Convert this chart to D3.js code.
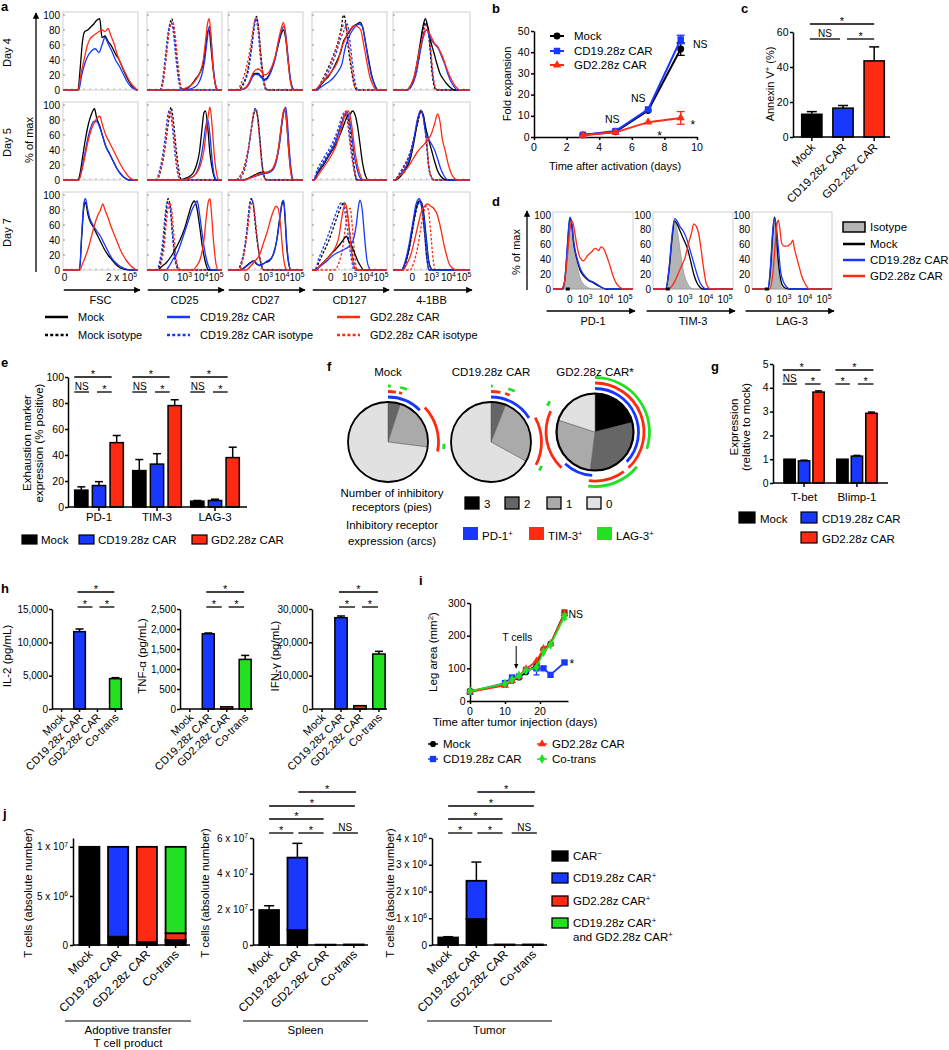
<!DOCTYPE html>
<html><head><meta charset="utf-8">
<script src="https://cdn.jsdelivr.net/npm/d3@7"></script>
<style>
body{margin:0;background:#fff;}
svg text{font-family:"Liberation Sans",Arial,Helvetica,sans-serif;fill:#000;}
</style></head><body>
<script>
// ================= DATA =================
const C = {mock:"#000000", cd19:"#1838ff", gd2:"#ff2a12", co:"#22e022"};
const seriesNames = ["Mock","CD19.28z CAR","GD2.28z CAR"];

// ---- panel a: flow histograms, [x% of axis, % of max]
const aMarkers = ["FSC","CD25","CD27","CD127","4-1BB"];
const aDays = ["Day 4","Day 5","Day 7"];
const aYTicks = [0,20,40,60,80,100];
const aXTicksFSC = [["0",2],["2 x 10^{5}",78]];
const aXTicksLog = [["0",25],["10^{3}",50],["10^{4}",72],["10^{5}",92]];
// entries: [marker, series, dashed(isotype), points]
const histDay4 = [
 ["FSC","mock",0,[[20,0],[23,30],[26,65],[29,78],[33,80],[37,84],[41,88],[45,93],[49,95],[52,70],[56,72],[60,65],[65,58],[70,48],[75,40],[80,28],[85,17],[90,8],[95,2],[99,0]]],
 ["FSC","cd19",0,[[21,0],[25,20],[29,35],[33,45],[38,52],[43,55],[48,50],[52,60],[56,70],[60,62],[65,52],[70,40],[75,32],[80,22],[85,12],[90,5],[96,1],[99,0]]],
 ["FSC","gd2",0,[[20,0],[24,22],[28,40],[32,58],[36,68],[40,72],[44,75],[48,78],[52,80],[56,78],[60,82],[64,72],[68,62],[72,48],[77,35],[82,25],[87,15],[92,7],[97,2],[99,0]]],
 ["CD25","mock",1,[[18,0],[22,15],[26,50],[30,85],[33,95],[36,80],[40,40],[44,8],[47,0]]],
 ["CD25","cd19",1,[[17,0],[21,15],[25,50],[29,82],[32,90],[35,78],[39,38],[43,8],[46,0]]],
 ["CD25","gd2",1,[[18,0],[22,14],[26,48],[30,80],[34,92],[37,78],[41,38],[45,6],[48,0]]],
 ["CD25","mock",0,[[40,0],[48,1],[55,3],[60,8],[65,15],[70,22],[75,35],[78,55],[81,78],[83,80],[85,60],[88,30],[91,8],[94,0]]],
 ["CD25","cd19",0,[[45,0],[55,1],[62,3],[68,8],[73,20],[77,40],[80,65],[83,85],[85,75],[88,35],[91,8],[94,0]]],
 ["CD25","gd2",0,[[40,0],[50,2],[58,6],[64,12],[70,22],[75,40],[78,65],[81,90],[83,95],[85,75],[88,30],[92,5],[95,0]]],
 ["CD27","mock",1,[[14,0],[20,8],[26,25],[31,55],[35,85],[38,98],[41,80],[44,45],[48,12],[52,0]]],
 ["CD27","cd19",1,[[15,0],[21,8],[27,25],[32,58],[35,85],[37,95],[40,80],[43,45],[47,12],[51,0]]],
 ["CD27","gd2",1,[[12,0],[18,10],[24,28],[30,58],[34,85],[38,97],[41,78],[44,42],[48,10],[52,0]]],
 ["CD27","mock",0,[[15,0],[20,1],[25,4],[29,10],[32,18],[36,22],[40,22],[44,18],[48,14],[52,16],[57,25],[62,40],[67,60],[71,75],[74,80],[77,68],[80,40],[83,15],[86,3],[89,0]]],
 ["CD27","cd19",0,[[15,0],[20,1],[25,4],[29,10],[33,18],[37,21],[41,20],[45,16],[49,13],[53,16],[58,26],[63,42],[67,62],[71,78],[75,85],[78,65],[81,35],[84,10],[88,0]]],
 ["CD27","gd2",0,[[15,0],[20,1],[25,5],[29,12],[33,22],[37,27],[41,28],[45,24],[49,20],[53,22],[58,30],[63,45],[67,65],[71,82],[74,90],[77,72],[80,40],[83,12],[87,0]]],
 ["CD127","mock",1,[[6,0],[12,10],[18,22],[24,35],[30,50],[35,65],[39,82],[42,100],[45,90],[48,60],[52,30],[56,8],[60,0]]],
 ["CD127","cd19",1,[[7,0],[13,8],[20,20],[27,35],[33,52],[38,68],[43,80],[47,88],[50,70],[54,35],[58,8],[61,0]]],
 ["CD127","gd2",1,[[6,0],[12,9],[19,22],[26,38],[32,55],[37,72],[41,85],[44,90],[47,75],[51,45],[55,15],[59,0]]],
 ["CD127","mock",0,[[4,0],[10,5],[16,12],[22,18],[28,28],[33,38],[38,50],[42,65],[46,72],[50,78],[55,85],[60,88],[64,90],[68,82],[72,60],[76,38],[80,18],[84,6],[88,0]]],
 ["CD127","cd19",0,[[5,0],[12,4],[18,8],[24,12],[30,18],[35,25],[40,35],[44,55],[48,68],[53,78],[58,85],[63,88],[67,85],[71,65],[75,40],[79,20],[83,8],[87,0]]],
 ["CD127","gd2",0,[[4,0],[10,6],[17,14],[24,22],[30,30],[35,40],[39,55],[43,65],[47,75],[52,82],[56,86],[60,85],[65,80],[69,60],[73,38],[77,18],[82,5],[86,0]]],
 ["4-1BB","mock",1,[[18,0],[24,8],[30,25],[35,55],[39,80],[42,90],[45,85],[48,55],[51,20],[54,3],[56,0]]],
 ["4-1BB","cd19",1,[[19,0],[25,8],[31,26],[36,58],[40,82],[43,88],[46,80],[49,50],[52,18],[55,3],[57,0]]],
 ["4-1BB","gd2",1,[[18,0],[24,7],[30,22],[35,50],[39,75],[43,86],[46,82],[49,55],[52,20],[55,3],[58,0]]],
 ["4-1BB","mock",0,[[17,0],[22,4],[27,15],[31,35],[35,60],[39,85],[42,95],[45,85],[49,65],[53,50],[57,35],[61,22],[65,15],[70,8],[75,3],[80,0]]],
 ["4-1BB","cd19",0,[[18,0],[24,5],[29,18],[33,38],[37,60],[41,78],[44,80],[47,72],[51,65],[55,60],[59,55],[63,45],[67,35],[71,22],[75,12],[79,5],[84,0]]],
 ["4-1BB","gd2",0,[[17,0],[23,6],[28,20],[32,40],[36,60],[40,72],[43,80],[46,78],[50,70],[54,62],[58,58],[62,50],[66,40],[70,28],[74,18],[78,10],[82,4],[87,0]]]
];
const histDay5 = [
 ["FSC","mock",0,[[20,0],[23,10],[26,30],[30,55],[34,75],[38,88],[42,95],[45,82],[49,72],[53,58],[57,45],[62,35],[67,25],[72,15],[77,8],[82,3],[88,0]]],
 ["FSC","cd19",0,[[21,0],[25,15],[29,35],[33,55],[37,70],[41,78],[45,78],[49,70],[53,58],[57,45],[62,35],[67,25],[72,15],[77,8],[82,3],[88,0]]],
 ["FSC","gd2",0,[[21,0],[25,12],[29,30],[33,50],[37,65],[41,75],[45,82],[49,85],[53,72],[57,60],[62,50],[67,40],[72,30],[77,20],[82,12],[87,5],[92,1],[96,0]]],
 ["CD25","mock",1,[[13,0],[17,8],[21,25],[25,50],[29,80],[32,97],[35,80],[39,40],[43,10],[46,0]]],
 ["CD25","cd19",1,[[12,0],[16,10],[20,28],[24,55],[27,82],[30,93],[33,78],[37,38],[41,8],[44,0]]],
 ["CD25","gd2",1,[[13,0],[17,9],[21,26],[25,52],[28,80],[31,92],[34,78],[38,38],[42,8],[45,0]]],
 ["CD25","mock",0,[[42,0],[50,2],[57,5],[62,10],[66,20],[70,38],[73,65],[76,90],[78,92],[81,70],[84,35],[88,10],[92,0]]],
 ["CD25","cd19",0,[[45,0],[55,2],[62,5],[67,12],[71,25],[75,48],[78,70],[81,80],[84,60],[87,25],[90,5],[93,0]]],
 ["CD25","gd2",0,[[45,0],[55,2],[62,5],[68,12],[72,22],[76,40],[79,65],[82,88],[84,97],[87,70],[90,30],[93,8],[96,0]]],
 ["CD27","mock",1,[[11,0],[16,5],[21,15],[26,35],[30,60],[34,85],[36,95],[39,88],[42,60],[45,25],[48,5],[51,0]]],
 ["CD27","cd19",1,[[14,0],[19,6],[24,20],[28,45],[32,75],[35,92],[37,95],[40,82],[43,50],[46,18],[49,3],[52,0]]],
 ["CD27","gd2",1,[[12,0],[17,6],[22,18],[27,40],[31,68],[34,90],[36,93],[39,85],[42,55],[45,20],[48,4],[51,0]]],
 ["CD27","mock",0,[[20,0],[26,2],[32,5],[38,8],[44,10],[50,10],[56,12],[60,15],[64,25],[68,45],[71,70],[74,90],[76,95],[78,80],[81,40],[84,10],[87,0]]],
 ["CD27","cd19",0,[[22,0],[28,2],[34,4],[40,6],[46,8],[52,9],[57,11],[61,15],[65,27],[69,50],[72,75],[75,93],[77,97],[79,80],[82,38],[85,8],[88,0]]],
 ["CD27","gd2",0,[[21,0],[27,2],[33,4],[39,7],[45,9],[51,10],[56,12],[60,16],[64,26],[68,48],[71,72],[74,92],[76,95],[78,78],[81,38],[84,8],[87,0]]],
 ["CD127","mock",1,[[3,0],[8,12],[14,22],[20,32],[26,42],[32,55],[37,68],[41,80],[44,85],[47,88],[50,70],[53,45],[56,20],[60,0]]],
 ["CD127","cd19",1,[[2,0],[7,14],[13,25],[19,35],[25,45],[31,58],[36,72],[40,85],[44,90],[47,80],[50,55],[54,25],[58,5],[61,0]]],
 ["CD127","gd2",1,[[3,0],[8,10],[14,20],[20,30],[26,40],[32,55],[37,70],[42,85],[45,92],[48,80],[51,50],[55,20],[59,0]]],
 ["CD127","mock",0,[[2,0],[8,10],[14,18],[20,28],[26,38],[32,48],[38,62],[43,75],[47,85],[51,88],[54,92],[58,85],[61,70],[64,48],[67,25],[70,10],[73,2],[75,0]]],
 ["CD127","cd19",0,[[2,0],[8,12],[14,20],[20,30],[26,40],[32,52],[37,68],[41,80],[44,88],[47,90],[50,80],[53,60],[56,35],[60,15],[64,3],[67,0]]],
 ["CD127","gd2",0,[[3,0],[9,8],[15,16],[21,25],[27,35],[33,48],[38,65],[42,80],[45,90],[48,92],[51,85],[54,65],[57,40],[61,18],[65,5],[68,0]]],
 ["4-1BB","mock",1,[[2,0],[8,8],[14,18],[20,30],[26,50],[32,75],[36,90],[39,85],[43,55],[46,20],[50,3],[53,0]]],
 ["4-1BB","cd19",1,[[3,0],[9,9],[15,20],[21,33],[27,55],[32,78],[36,92],[39,88],[43,58],[46,22],[50,4],[53,0]]],
 ["4-1BB","gd2",1,[[3,0],[9,7],[15,17],[21,30],[27,52],[32,76],[36,90],[40,84],[44,50],[47,15],[51,2],[54,0]]],
 ["4-1BB","mock",0,[[3,0],[10,5],[17,15],[23,30],[28,55],[32,80],[36,92],[39,88],[42,72],[46,55],[50,40],[54,25],[58,12],[62,5],[67,1],[72,0]]],
 ["4-1BB","cd19",0,[[3,0],[10,8],[17,18],[23,35],[28,60],[32,82],[36,93],[39,85],[42,65],[46,55],[50,48],[54,40],[58,28],[62,15],[66,6],[70,1],[74,0]]],
 ["4-1BB","gd2",0,[[2,0],[8,5],[14,10],[20,18],[26,28],[32,38],[38,45],[44,52],[50,62],[54,75],[58,88],[61,78],[64,55],[68,38],[72,20],[76,8],[80,2],[84,0]]]
];
const histDay7 = [
 ["FSC","mock",0,[[22,0],[25,45],[28,85],[30,90],[33,75],[36,65],[40,58],[45,48],[50,38],[55,28],[60,20],[65,14],[70,8],[76,3],[82,1],[88,0]]],
 ["FSC","cd19",0,[[22,0],[25,50],[28,90],[30,95],[33,80],[36,68],[40,60],[45,52],[50,45],[55,35],[60,25],[65,16],[70,10],[76,5],[82,2],[90,0]]],
 ["FSC","gd2",0,[[22,0],[26,8],[30,18],[34,30],[38,45],[42,60],[46,72],[50,80],[53,88],[56,80],[60,70],[64,58],[68,48],[72,38],[76,28],[80,20],[85,12],[90,6],[95,2],[99,0]]],
 ["CD25","mock",1,[[14,0],[18,10],[22,35],[25,70],[28,95],[31,85],[34,50],[37,20],[40,5],[43,0]]],
 ["CD25","cd19",1,[[13,0],[17,12],[21,38],[24,72],[28,92],[31,80],[34,45],[37,15],[40,3],[42,0]]],
 ["CD25","gd2",1,[[15,0],[19,10],[23,32],[26,65],[30,90],[33,80],[36,45],[39,15],[42,3],[44,0]]],
 ["CD25","mock",0,[[14,0],[20,5],[26,10],[32,18],[38,28],[44,40],[50,55],[55,72],[60,88],[63,92],[66,85],[70,60],[74,30],[78,10],[82,0]]],
 ["CD25","cd19",0,[[25,0],[30,6],[35,15],[40,22],[45,35],[50,50],[55,65],[60,80],[64,88],[67,92],[70,75],[74,45],[78,20],[82,5],[86,0]]],
 ["CD25","gd2",0,[[60,0],[66,5],[72,18],[76,40],[79,70],[82,92],[84,95],[86,75],[89,35],[92,8],[95,0]]],
 ["CD27","mock",1,[[13,0],[17,8],[21,22],[25,50],[28,80],[31,95],[34,85],[37,55],[41,25],[45,5],[48,0]]],
 ["CD27","cd19",1,[[14,0],[18,10],[22,30],[26,60],[29,88],[32,93],[35,80],[38,50],[42,18],[46,2],[48,0]]],
 ["CD27","gd2",1,[[15,0],[19,10],[23,30],[27,60],[30,85],[33,90],[36,70],[39,40],[43,12],[47,0]]],
 ["CD27","mock",0,[[15,0],[20,2],[25,6],[30,10],[34,12],[38,8],[42,6],[46,8],[50,10],[55,12],[60,20],[65,40],[69,70],[72,88],[74,92],[76,70],[78,35],[81,8],[84,0]]],
 ["CD27","cd19",0,[[16,0],[21,2],[26,6],[31,10],[35,12],[39,8],[43,6],[47,8],[52,12],[57,15],[62,25],[66,45],[70,75],[72,90],[74,93],[76,75],[78,40],[81,10],[84,0]]],
 ["CD27","gd2",0,[[24,0],[30,5],[36,12],[42,20],[47,35],[52,50],[57,68],[61,80],[64,85],[67,82],[70,60],[73,25],[76,5],[79,0]]],
 ["CD127","mock",1,[[4,0],[10,12],[16,25],[22,38],[28,55],[34,72],[39,85],[43,90],[47,75],[51,45],[55,15],[58,0]]],
 ["CD127","cd19",1,[[4,0],[9,15],[15,30],[21,45],[27,62],[33,78],[37,88],[41,90],[45,70],[49,40],[53,12],[56,0]]],
 ["CD127","gd2",1,[[30,0],[36,10],[41,30],[45,60],[48,80],[51,82],[54,55],[57,20],[60,0]]],
 ["CD127","mock",0,[[5,0],[10,5],[15,10],[20,15],[26,22],[32,28],[38,35],[43,42],[46,45],[49,38],[53,32],[57,22],[61,12],[65,5],[69,0]]],
 ["CD127","cd19",0,[[5,0],[10,4],[15,8],[20,12],[26,18],[32,22],[38,25],[44,28],[50,32],[55,40],[59,60],[62,85],[64,93],[67,80],[70,45],[73,15],[76,3],[79,0]]],
 ["CD127","gd2",0,[[5,0],[10,5],[15,10],[20,15],[26,22],[32,32],[36,45],[39,65],[42,82],[45,88],[48,70],[51,40],[54,15],[57,3],[60,0]]],
 ["4-1BB","mock",1,[[12,0],[17,12],[22,35],[27,65],[31,85],[35,92],[38,80],[41,50],[44,15],[47,0]]],
 ["4-1BB","cd19",1,[[13,0],[18,14],[23,38],[28,68],[32,86],[35,90],[38,78],[41,48],[44,14],[47,0]]],
 ["4-1BB","gd2",1,[[22,0],[27,10],[32,30],[36,55],[40,78],[43,85],[46,80],[49,50],[52,15],[55,0]]],
 ["4-1BB","mock",0,[[11,0],[16,10],[21,30],[26,60],[30,82],[34,92],[37,90],[40,75],[43,45],[46,15],[49,3],[52,0]]],
 ["4-1BB","cd19",0,[[11,0],[16,12],[21,35],[26,65],[30,88],[34,95],[37,88],[40,70],[43,40],[46,12],[49,2],[52,0]]],
 ["4-1BB","gd2",0,[[13,0],[18,8],[23,20],[28,40],[33,62],[37,78],[41,85],[45,88],[49,85],[53,82],[57,75],[61,60],[64,45],[67,30],[70,18],[73,8],[77,3],[82,0]]]
];

// ---- panel b
const bDays = [3,5,7,9];
const bMock = [1,2.5,12.5,41.5], bMockErr = [0,0,0,3];
const bCD19 = [1,2.8,13,46], bCD19Err = [0,0,0,2];
const bGD2 = [0.8,2.2,7,9], bGD2Err = [0,0,0,3];
const bXTicks = [0,2,4,6,8,10], bYTicks = [0,10,20,30,40,50];

// ---- panel c
const cGroups = ["Mock","CD19.28z CAR","GD2.28z CAR"];
const cValues = [13,16.5,43.5], cErr = [1.5,1.5,8];
const cYTicks = [0,20,40,60];

// ---- panel d
const dMarkers = ["PD-1","TIM-3","LAG-3"];
const dIsotype = [
 [[12,0],[15,10],[18,45],[21,85],[23,92],[25,80],[28,50],[31,28],[34,15],[38,7],[42,3],[46,1],[50,0]],
 [[15,0],[19,15],[23,55],[26,85],[28,90],[31,75],[35,45],[39,20],[43,8],[47,2],[50,0]],
 [[20,0],[23,20],[26,65],[28,90],[30,80],[32,45],[34,15],[37,3],[40,0]]];
const dMock = [
 [[12,0],[15,15],[18,55],[21,95],[23,90],[26,60],[30,40],[34,25],[38,18],[44,12],[51,8],[57,4],[63,1],[66,0]],
 [[16,0],[20,25],[24,70],[27,92],[30,88],[34,78],[38,68],[43,55],[47,38],[51,20],[55,8],[59,2],[62,0]],
 [[20,0],[23,25],[26,75],[28,97],[30,85],[32,50],[35,18],[38,5],[42,1],[46,0]]];
const dCD19 = [
 [[12,0],[15,15],[18,60],[21,97],[23,92],[26,62],[30,42],[34,28],[38,20],[44,13],[51,9],[57,5],[63,1],[68,0]],
 [[16,0],[20,28],[24,75],[27,95],[30,92],[34,84],[38,78],[43,65],[47,50],[51,35],[55,20],[59,8],[63,2],[66,0]],
 [[20,0],[23,30],[26,80],[28,95],[30,88],[33,55],[36,22],[40,8],[44,2],[48,0]]];
const dGD2 = [
 [[10,0],[14,8],[18,45],[21,80],[24,92],[27,78],[30,58],[34,42],[38,38],[43,45],[48,50],[53,55],[57,52],[60,57],[63,55],[67,45],[71,32],[75,18],[79,8],[84,2],[88,0]],
 [[18,0],[23,3],[28,12],[32,22],[36,32],[40,42],[44,60],[48,75],[51,88],[54,85],[57,75],[60,55],[63,30],[66,10],[69,2],[72,0]],
 [[22,0],[26,20],[29,60],[31,85],[33,93],[35,80],[37,62],[40,58],[44,58],[47,60],[49,62],[51,66],[53,55],[56,42],[59,30],[62,18],[65,10],[68,4],[72,0]]];
const dXTicks = [["0",21],["10^{3}",40],["10^{4}",66],["10^{5}",90]];

// ---- panel e
const eMarkers = ["PD-1","TIM-3","LAG-3"];
const eMock = [13,28,4.5], eMockErr = [2.5,8.5,0.5];
const eCD19 = [16.5,33,5], eCD19Err = [3,8,1];
const eGD2 = [49.5,78,38], eGD2Err = [5.5,4.5,8];
const eYTicks = [0,20,40,60,80,100];

// ---- panel f
const fGroups = ["Mock","CD19.28z CAR","GD2.28z CAR*"];
const fPie3 = [0,0,0.21], fPie2 = [0.05,0.06,0.31], fPie1 = [0.22,0.27,0.28], fPie0 = [0.73,0.67,0.20];
const fArcPD1 = [[[0,0.125]],[[0,0.16]],[[0,0.37],[0.51,0.62]]];
const fArcTIM3 = [[[0,0.025],[0.035,0.045],[0.13,0.28]],[[0,0.03],[0.045,0.06],[0.17,0.325]],[[0,0.38],[0.40,0.52],[0.62,0.82]]];
const fArcLAG3 = [[[0,0.008],[0.035,0.055],[0.255,0.27]],[[0,0.005],[0.05,0.07],[0.32,0.335]],[[0,0.30],[0.36,0.52],[0.83,0.845]]];
const fCountLabels = ["3","2","1","0"];
const fReceptorLabels = ["PD-1^{+}","TIM-3^{+}","LAG-3^{+}"];

// ---- panel g
const gGenes = ["T-bet","Blimp-1"];
const gMock = [1.0,1.0], gMockErr = [0.02,0.01];
const gCD19 = [0.93,1.13], gCD19Err = [0.03,0.03];
const gGD2 = [3.82,2.93], gGD2Err = [0.05,0.05];
const gYTicks = [0,1,2,3,4,5];

// ---- panel h
const hGroups = ["Mock","CD19.28z CAR","GD2.28z CAR","Co-trans"];
const hIL2 = [0,11600,0,4550], hIL2Err = [0,400,0,150];
const hTNF = [0,1880,55,1240], hTNFErr = [0,20,10,100];
const hIFN = [0,27400,1000,16500], hIFNErr = [0,500,100,800];
const hIL2Ticks = [0,5000,10000,15000];
const hTNFTicks = [0,500,1000,1500,2000,2500];
const hIFNTicks = [0,10000,20000,30000];

// ---- panel i
const iDays = [0,10,12,14,16,19,21,23,27];
const iMock = [30,50,62,72,88,110,158,175,270], iMockErr = [0,0,0,0,0,0,0,0,8];
const iCD19 = [28,55,72,75,95,100,100,80,118], iCD19Err = [0,0,0,0,0,20,0,0,5];
const iGD2 = [28,48,62,75,98,122,160,175,268], iGD2Err = [0,0,0,0,0,0,0,0,8];
const iCo = [30,53,65,78,93,103,150,172,258], iCoErr = [0,0,0,0,0,0,0,0,8];
const iXTicks = [0,10,20], iYTicks = [0,100,200,300];

// ---- panel j
const jGroups = ["Mock","CD19.28z CAR","GD2.28z CAR","Co-trans"];
const jStackKeys = ["carNeg","cd19","gd2","both"];
const jProductCarNeg = [1e7,0.085e7,0.03e7,0.03e7];
const jProductCD19 = [0,0.915e7,0,0.02e7];
const jProductGD2 = [0,0,0.97e7,0.07e7];
const jProductBoth = [0,0,0,0.88e7];
const jSpleenCarNeg = [1.96e7,0.84e7,0.02e7,0.03e7];
const jSpleenCD19 = [0,4.06e7,0,0];
const jSpleenErrTop = [2.2e7,5.7e7,0,0];
const jTumorCarNeg = [0.28e6,0.97e6,0.02e6,0.02e6];
const jTumorCD19 = [0,1.43e6,0,0];
const jTumorErrTop = [0.31e6,3.1e6,0,0];
const jLegend = ["CAR^{−}","CD19.28z CAR^{+}","GD2.28z CAR^{+}","CD19.28z CAR^{+}|and GD2.28z CAR^{+}"];

// ================= HELPERS =================
const svg = d3.select("body").append("svg").attr("width",949).attr("height",1050).style("display","block");
const defs = svg.append("defs");
defs.append("marker").attr("id","arr").attr("viewBox","0 0 10 10").attr("refX",9).attr("refY",5)
  .attr("markerWidth",5).attr("markerHeight",5).attr("orient","auto")
  .append("path").attr("d","M0,0L10,5L0,10z").attr("fill","#000");

function T(g,x,y,s,o={}){
  const size=o.size||11;
  const t=g.append("text").attr("x",x).attr("y",y).attr("font-size",size).attr("text-anchor",o.anchor||"start");
  if(o.bold) t.attr("font-weight","bold");
  if(o.rot!=null) t.attr("transform",`rotate(${o.rot},${x},${y})`);
  const parts=String(s).split(/(\^\{[^}]*\})/);
  let shift=0;
  parts.forEach(p=>{
    if(!p) return;
    const m=p.match(/^\^\{(.*)\}$/);
    if(m){ t.append("tspan").attr("dy",-size*0.38).attr("font-size",size*0.68).text(m[1]); shift=size*0.38; return; }
    const ts=t.append("tspan").text(p);
    if(shift){ ts.attr("dy",shift); shift=0; }
  });
  return t;
}
function axisL(g,scale,x,ticks,labels,o={}){
  const ts=o.ts||3;
  const a=g.append("g").attr("transform",`translate(${x},0)`)
    .call(d3.axisLeft(scale).tickValues(ticks).tickSize(ts).tickSizeOuter(0).tickFormat(""));
  a.select(".domain").attr("stroke","#000").attr("stroke-width",o.sw||1.5);
  a.selectAll(".tick line").attr("stroke","#000").attr("stroke-width",o.sw||1.5);
  ticks.forEach((v,i)=>T(g,x-ts-(o.gap!=null?o.gap:1.5),scale(v)+3.6,labels[i],{anchor:"end",size:o.size||10.5}));
}
function axisB(g,scale,y,ticks,labels,o={}){
  const ts=o.ts||3;
  const a=g.append("g").attr("transform",`translate(0,${y})`)
    .call(d3.axisBottom(scale).tickValues(ticks).tickSize(ts).tickSizeOuter(0).tickFormat(""));
  a.select(".domain").attr("stroke","#000").attr("stroke-width",o.sw||1.5);
  a.selectAll(".tick line").attr("stroke","#000").attr("stroke-width",o.sw||1.5);
  if(labels) ticks.forEach((v,i)=>T(g,scale(v),y+ts+11,labels[i],{anchor:"middle",size:o.size||10.5}));
}
function hline(g,x1,x2,y,sw,col){ return g.append("line").attr("x1",x1).attr("x2",x2).attr("y1",y).attr("y2",y).attr("stroke",col||"#000").attr("stroke-width",sw||1.5); }
function vline(g,x,y1,y2,sw,col){ return g.append("line").attr("x1",x).attr("x2",x).attr("y1",y1).attr("y2",y2).attr("stroke",col||"#000").attr("stroke-width",sw||1.5); }
function sig(g,x1,x2,y,label){
  hline(g,x1,x2,y,1.3);
  if(label==="*") T(g,(x1+x2)/2,y+0.5,"*",{anchor:"middle",size:11});
  else T(g,(x1+x2)/2,y-2.5,label,{anchor:"middle",size:10});
}
function rect(g,x,y0,y1,w,fill,sw){
  g.append("rect").attr("x",x).attr("y",Math.min(y0,y1)).attr("width",w).attr("height",Math.abs(y1-y0))
   .attr("fill",fill).attr("stroke","#000").attr("stroke-width",sw||1.5);
}
function errUp(g,cx,y0,y1,cap){ if(Math.abs(y1-y0)<0.5) return; vline(g,cx,y0,y1,1.5); hline(g,cx-cap/2,cx+cap/2,y1,1.5); }
function rotLabels(g,scale,names,y,o={}){
  names.forEach(n=>{ const cx=scale(n)+scale.bandwidth()/2+(o.dx||3); T(g,cx,y,n,{anchor:"end",rot:-45,size:o.size||10.5}); });
}
const smoothLine = (x,y)=>d3.line().x(d=>x(d[0])).y(d=>y(d[1])).curve(d3.curveMonotoneX);
function withBase(pts){ return [[0,0],...pts.filter(p=>p[0]>0&&p[0]<100),[100,0]]; }

// ================= PANEL A =================
(function(){
  const g=svg.append("g");
  T(g,1,11,"a",{bold:1,size:13});
  const colLeft=[63,147,228,312,393], colW=[75,75,75,75,77];
  const rowTop=[15,105,195], rowH=75;
  const rows=[histDay4,histDay5,histDay7];
  vline(g,36,272,13,1.3).attr("marker-end","url(#arr)");
  T(g,33,140,"% of max",{anchor:"middle",rot:-90,size:11});
  aDays.forEach((day,ri)=>{
    const y=d3.scaleLinear().domain([0,100]).range([rowTop[ri]+rowH,rowTop[ri]]);
    T(g,11,(y(0)+y(100))/2,day,{anchor:"middle",rot:-90,size:11});
    aYTicks.forEach(v=>T(g,60,y(v)+3.5,String(v),{anchor:"end",size:10}));
    aMarkers.forEach((m,ci)=>{
      const x=d3.scaleLinear().domain([0,100]).range([colLeft[ci],colLeft[ci]+colW[ci]]);
      g.append("rect").attr("x",x(0)).attr("y",y(104)).attr("width",x(100)-x(0)).attr("height",y(0)-y(104))
        .attr("fill","none").attr("stroke","#cfcfcf").attr("stroke-width",1);
      aYTicks.forEach(v=>{ g.append("line").attr("x1",x(0)).attr("x2",x(0)+2).attr("y1",y(v)).attr("y2",y(v)).attr("stroke","#777").attr("stroke-width",0.8); });
      d3.range(4,100,8).forEach(v=>{ g.append("line").attr("x1",x(v)).attr("x2",x(v)).attr("y1",y(0)).attr("y2",y(0)-2).attr("stroke","#999").attr("stroke-width",0.6); });
      const line=smoothLine(x,y);
      rows[ri].filter(h=>h[0]===m).sort((a,b)=>b[2]-a[2]).forEach(h=>{
        g.append("path").attr("d",line(withBase(h[3]))).attr("fill","none").attr("stroke",C[h[1]])
          .attr("stroke-width",1.3).attr("stroke-dasharray",h[2]?"2.5,1.8":null);
      });
      if(ri===2){
        const tk = ci===0?aXTicksFSC:aXTicksLog;
        tk.forEach(t=>T(g,x(t[1]),281,t[0],{anchor:"middle",size:10}));
        hline(g,x(1),x(100)+2,290,1.3).attr("marker-end","url(#arr)");
        T(g,(x(0)+x(100))/2,304,m,{anchor:"middle",size:11});
      }
    });
  });
  // legend
  const lx=[45,167,337], keys=["mock","cd19","gd2"];
  keys.forEach((k,i)=>{
    [[317,0,seriesNames[i]],[335,1,seriesNames[i]+" isotype"]].forEach(r=>{
      hline(g,lx[i],lx[i]+23,r[0],2.5,C[k]).attr("stroke-dasharray",r[1]?"3,2.2":null);
      T(g,lx[i]+33,r[0]+4,r[2],{size:11});
    });
  });
})();

// ================= PANEL B =================
(function(){
  const g=svg.append("g");
  T(g,492,13,"b",{bold:1,size:13});
  const x=d3.scaleLinear().domain([0,10]).range([534,697]);
  const y=d3.scaleLinear().domain([0,50]).range([137,31]);
  axisB(g,x,137,bXTicks,bXTicks.map(String));
  axisL(g,y,534,bYTicks,bYTicks.map(String));
  T(g,511,84,"Fold expansion",{anchor:"middle",rot:-90,size:11});
  T(g,615,170,"Time after activation (days)",{anchor:"middle",size:11});
  const series=[["mock",bMock,bMockErr,d3.symbolCircle,38],["cd19",bCD19,bCD19Err,d3.symbolSquare,42],["gd2",bGD2,bGD2Err,d3.symbolTriangle,30]];
  series.forEach(s=>{
    const pts=bDays.map((d,i)=>[d,s[1][i],s[2][i]]);
    pts.forEach(p=>{ if(p[2]>0){
      vline(g,x(p[0]),y(p[1]-p[2]),y(p[1]+p[2]),1.3,C[s[0]]);
      [p[1]-p[2],p[1]+p[2]].forEach(v=>hline(g,x(p[0])-4,x(p[0])+4,y(v),1.3,C[s[0]]));
    }});
    g.append("path").attr("d",d3.line().x(d=>x(d[0])).y(d=>y(d[1]))(pts)).attr("fill","none").attr("stroke",C[s[0]]).attr("stroke-width",2);
    g.selectAll(null).data(pts).enter().append("path").attr("d",d3.symbol(s[3],s[4])).attr("transform",d=>`translate(${x(d[0])},${y(d[1])})`).attr("fill",C[s[0]]);
  });
  series.forEach((s,i)=>{
    const ly=[36,51,65][i];
    hline(g,550,564,ly,2,C[s[0]]);
    g.append("path").attr("d",d3.symbol(s[3],s[4])).attr("transform",`translate(557,${ly})`).attr("fill",C[s[0]]);
    T(g,574,ly+4,seriesNames[i],{size:11.5});
  });
  T(g,x(4.8),y(6.5),"NS",{anchor:"middle",size:10.5});
  T(g,x(6.4),y(16.5),"NS",{anchor:"middle",size:10.5});
  T(g,x(10.2),y(42),"NS",{anchor:"middle",size:10.5});
  T(g,x(7.7),y(-1.5),"*",{anchor:"middle",size:12});
  T(g,x(9.75),y(4),"*",{anchor:"middle",size:12});
})();

// ================= PANEL C =================
(function(){
  const g=svg.append("g");
  T(g,741,13,"c",{bold:1,size:13});
  const x=d3.scaleBand().domain(cGroups).range([797,889]).paddingInner(0.35).paddingOuter(0.15);
  const y=d3.scaleLinear().domain([0,60]).range([137,32]);
  const fills=[C.mock,C.cd19,C.gd2];
  cGroups.forEach((n,i)=>{
    errUp(g,x(n)+x.bandwidth()/2,y(cValues[i]),y(cValues[i]+cErr[i]),10);
    rect(g,x(n),y(0),y(cValues[i]),x.bandwidth(),fills[i],1.5);
  });
  axisL(g,y,793,cYTicks,cYTicks.map(String));
  hline(g,793,890,137,1.5);
  cGroups.forEach(n=>vline(g,x(n)+x.bandwidth()/2,137,141,1.5));
  rotLabels(g,x,cGroups,148,{dx:4,size:11.5});
  T(g,774,84,"Annexin V^{+} (%)",{anchor:"middle",rot:-90,size:11});
  const c=n=>x(n)+x.bandwidth()/2;
  sig(g,c(cGroups[0])-2,c(cGroups[2]),24,"*");
  sig(g,c(cGroups[0])-2,c(cGroups[1])-3,39,"NS");
  sig(g,c(cGroups[1])+4,c(cGroups[2]),39,"*");
})();

// ================= PANEL D =================
(function(){
  const g=svg.append("g");
  T(g,492,206,"d",{bold:1,size:13});
  const lefts=[553,653,752], w=80;
  const y=d3.scaleLinear().domain([0,100]).range([289,215]);
  vline(g,527,290,211,1.3).attr("marker-end","url(#arr)");
  T(g,520,252,"% of max",{anchor:"middle",rot:-90,size:11});
  dMarkers.forEach((m,i)=>{
    const x=d3.scaleLinear().domain([0,100]).range([lefts[i],lefts[i]+w]);
    g.append("rect").attr("x",x(0)).attr("y",y(104)).attr("width",w).attr("height",y(0)-y(104)).attr("fill","none").attr("stroke","#cfcfcf");
    [0,20,40,60,80,100].forEach(v=>T(g,x(0)-2,y(v)+3.5,String(v),{anchor:"end",size:10}));
    const line=smoothLine(x,y);
    const area=d3.area().x(d=>x(d[0])).y0(y(0)).y1(d=>y(d[1])).curve(d3.curveMonotoneX);
    g.append("path").attr("d",area(withBase(dIsotype[i]))).attr("fill","#b4b4b4").attr("stroke","#8a8a8a").attr("stroke-width",0.6);
    [["mock",dMock],["cd19",dCD19],["gd2",dGD2]].forEach(s=>{
      g.append("path").attr("d",line(withBase(s[1][i]))).attr("fill","none").attr("stroke",C[s[0]]).attr("stroke-width",1.3);
    });
    g.append("rect").attr("x",x(16)).attr("y",y(0)-1.5).attr("width",4).attr("height",3).attr("fill","#000");
    dXTicks.forEach(t=>T(g,x(t[1]),303,t[0],{anchor:"middle",size:10}));
    hline(g,x(-8),x(100)+2,311,1.3).attr("marker-end","url(#arr)");
    T(g,x(50),325,m,{anchor:"middle",size:11});
  });
  g.append("rect").attr("x",843).attr("y",222).attr("width",22).attr("height",10).attr("fill","#b4b4b4").attr("stroke","#000").attr("stroke-width",1.5);
  T(g,870,231,"Isotype",{size:11.5});
  [["mock",244],["cd19",260],["gd2",276]].forEach((s,i)=>{
    hline(g,843,865,s[1],2.5,C[s[0]]);
    T(g,870,s[1]+4,seriesNames[i],{size:11.5});
  });
})();

// ================= PANEL E =================
(function(){
  const g=svg.append("g");
  T(g,1,367,"e",{bold:1,size:13});
  const x0=d3.scaleBand().domain(eMarkers).range([70,244]).paddingInner(0.1).paddingOuter(0.05);
  const x1=d3.scaleBand().domain(["mock","cd19","gd2"]).range([0,x0.bandwidth()]).paddingInner(0.25).paddingOuter(0.1);
  const y=d3.scaleLinear().domain([0,100]).range([507,377]);
  const sets=[["mock",eMock,eMockErr],["cd19",eCD19,eCD19Err],["gd2",eGD2,eGD2Err]];
  eMarkers.forEach((m,gi)=>{
    sets.forEach(s=>{
      const bx=x0(m)+x1(s[0]), bw=x1.bandwidth();
      errUp(g,bx+bw/2,y(s[1][gi]),y(s[1][gi]+s[2][gi]),8);
      rect(g,bx,y(0),y(s[1][gi]),bw,C[s[0]],1.5);
    });
    const c=k=>x0(m)+x1(k)+x1.bandwidth()/2;
    sig(g,c("mock")-7,c("gd2")-5,377,"*");
    sig(g,c("mock")-7,c("cd19")-10,392,"NS");
    sig(g,c("cd19")-2,c("gd2")-5,392,"*");
    T(g,x0(m)+x0.bandwidth()/2,521,m,{anchor:"middle",size:11.5});
  });
  axisL(g,y,68,eYTicks,eYTicks.map(String),{ts:3,gap:1});
  hline(g,68,247,507,1.5);
  eMarkers.forEach(m=>vline(g,x0(m)+x0.bandwidth()/2,507,511,1.5));
  T(g,31,443,"Exhaustion marker",{anchor:"middle",rot:-90,size:11.5});
  T(g,43,443,"expression (% positive)",{anchor:"middle",rot:-90,size:11.5});
  const lx=[22,79,192];
  ["mock","cd19","gd2"].forEach((k,i)=>{
    g.append("rect").attr("x",lx[i]).attr("y",535).attr("width",15).attr("height",9).attr("fill",C[k]).attr("stroke","#000").attr("stroke-width",1.2);
    T(g,lx[i]+19,544,seriesNames[i],{size:11.5});
  });
})();

// ================= PANEL F =================
(function(){
  const g=svg.append("g");
  T(g,327,371,"f",{bold:1,size:13});
  const centers=[[388,442,40],[491,442,40],[595,432,38.5]];
  const greys=["#000000","#666666","#aaaaaa","#e1e1e1"];
  const pie=d3.pie().sort(null).value(d=>d);
  fGroups.forEach((name,i)=>{
    const [cx,cy,r]=centers[i];
    T(g,cx,376,name,{anchor:"middle",size:11.5});
    const pg=g.append("g").attr("transform",`translate(${cx},${cy})`);
    const vals=[fPie3[i],fPie2[i],fPie1[i],fPie0[i]];
    const arc=d3.arc().innerRadius(0).outerRadius(r);
    pg.selectAll(null).data(pie(vals)).enter().append("path").attr("d",arc).attr("fill",(d,j)=>greys[j]).attr("stroke","#555").attr("stroke-width",0.5);
    pg.append("circle").attr("r",r).attr("fill","none").attr("stroke","#000").attr("stroke-width",i===2?2.2:1.8);
    [[fArcPD1,C.cd19,5],[fArcTIM3,C.gd2,10.5],[fArcLAG3,C.co,16]].forEach(a=>{
      const ring=d3.arc().innerRadius(r+a[2]-1.4).outerRadius(r+a[2]+1.4);
      a[0][i].forEach(seg=>{
        pg.append("path").attr("d",ring({startAngle:seg[0]*2*Math.PI,endAngle:seg[1]*2*Math.PI})).attr("fill",a[1]);
      });
    });
  });
  T(g,392,497,"Number of inhibitory",{anchor:"middle",size:11.5});
  T(g,392,511,"receptors (pies)",{anchor:"middle",size:11.5});
  T(g,392,529,"Inhibitory receptor",{anchor:"middle",size:11.5});
  T(g,392,545,"expression (arcs)",{anchor:"middle",size:11.5});
  const sx=[465,505,547,587];
  fCountLabels.forEach((l,j)=>{
    g.append("rect").attr("x",sx[j]).attr("y",497).attr("width",14).attr("height",12).attr("fill",greys[j]).attr("stroke","#000").attr("stroke-width",1.3);
    T(g,sx[j]+19,508,l,{size:11.5});
  });
  const rx=[463,529,597], rc=[C.cd19,C.gd2,C.co];
  fReceptorLabels.forEach((l,j)=>{
    g.append("rect").attr("x",rx[j]).attr("y",527).attr("width",15).attr("height",13).attr("fill",rc[j]);
    T(g,rx[j]+19,540,l,{size:11.5});
  });
})();

// ================= PANEL G =================
(function(){
  const g=svg.append("g");
  T(g,711,371,"g",{bold:1,size:13});
  const x0=d3.scaleBand().domain(gGenes).range([775,886]).paddingInner(0.1).paddingOuter(0.1);
  const x1=d3.scaleBand().domain(["mock","cd19","gd2"]).range([0,x0.bandwidth()]).paddingInner(0.22).paddingOuter(0.25);
  const y=d3.scaleLinear().domain([0,5]).range([483,364]);
  const sets=[["mock",gMock,gMockErr],["cd19",gCD19,gCD19Err],["gd2",gGD2,gGD2Err]];
  gGenes.forEach((gn,gi)=>{
    sets.forEach(s=>{
      const bx=x0(gn)+x1(s[0]), bw=x1.bandwidth();
      errUp(g,bx+bw/2,y(s[1][gi]),y(s[1][gi]+s[2][gi]),7);
      rect(g,bx,y(0),y(s[1][gi]),bw,C[s[0]],1.5);
    });
    const c=k=>x0(gn)+x1(k)+x1.bandwidth()/2;
    sig(g,c("mock")-7,c("gd2")+2,370,"*");
    sig(g,c("mock")-7,c("cd19")-7,384,gi===0?"NS":"*");
    sig(g,c("cd19")+1,c("gd2")+2,384,"*");
    T(g,x0(gn)+x0.bandwidth()/2,501,gn,{anchor:"middle",size:11.5});
  });
  axisL(g,y,773,gYTicks,gYTicks.map(String));
  hline(g,773,888,483,1.5);
  gGenes.forEach(gn=>vline(g,x0(gn)+x0.bandwidth()/2,483,487,1.5));
  T(g,738,427,"Expression",{anchor:"middle",rot:-90,size:11.5});
  T(g,750,427,"(relative to mock)",{anchor:"middle",rot:-90,size:11.5});
  [[739,512,"mock",0],[801,512,"cd19",1],[801,532,"gd2",2]].forEach(l=>{
    g.append("rect").attr("x",l[0]).attr("y",l[1]).attr("width",16).attr("height",11).attr("fill",C[l[2]]).attr("stroke","#000").attr("stroke-width",1.2);
    T(g,l[0]+21,l[1]+11,seriesNames[l[3]],{size:11.5});
  });
})();

// ================= PANEL H =================
(function(){
  const g=svg.append("g");
  T(g,1,593,"h",{bold:1,size:13});
  const charts=[
    {ax:52,end:123,vals:hIL2,err:hIL2Err,max:15000,ticks:hIL2Ticks,title:"IL-2 (pg/mL)",tx:11},
    {ax:180,end:253,vals:hTNF,err:hTNFErr,max:2500,ticks:hTNFTicks,title:"TNF-α (pg/mL)",tx:146},
    {ax:312,end:387,vals:hIFN,err:hIFNErr,max:30000,ticks:hIFNTicks,title:"IFN-γ (pg/mL)",tx:279}];
  const fills=[C.mock,C.cd19,C.gd2,C.co];
  charts.forEach(ch=>{
    const x=d3.scaleBand().domain(hGroups).range([ch.ax+2,ch.end]).paddingInner(0.35).paddingOuter(0.1);
    const y=d3.scaleLinear().domain([0,ch.max]).range([709,609]);
    hGroups.forEach((n,i)=>{
      errUp(g,x(n)+x.bandwidth()/2,y(ch.vals[i]),y(ch.vals[i]+ch.err[i]),8);
      if(ch.vals[i]>0) rect(g,x(n),y(0),y(ch.vals[i]),x.bandwidth(),fills[i],1.5);
    });
    axisL(g,y,ch.ax,ch.ticks,ch.ticks.map(d3.format(",")),{ts:3,gap:1,size:10});
    hline(g,ch.ax,ch.end,709,1.5);
    hGroups.forEach(n=>vline(g,x(n)+x.bandwidth()/2,709,712,1.5));
    rotLabels(g,x,hGroups,718,{dx:4,size:11});
    T(g,ch.tx,656,ch.title,{anchor:"middle",rot:-90,size:11.5});
    const c=n=>x(n)+x.bandwidth()/2;
    sig(g,c(hGroups[1])-2,c(hGroups[3])-1,592,"*");
    sig(g,c(hGroups[1])-2,c(hGroups[2])-5,607,"*");
    sig(g,c(hGroups[2])+2,c(hGroups[3])-1,607,"*");
  });
})();

// ================= PANEL I =================
(function(){
  const g=svg.append("g");
  T(g,419,585,"i",{bold:1,size:13});
  const x=d3.scaleLinear().domain([0,28]).range([470,568]);
  const y=d3.scaleLinear().domain([0,300]).range([701,603]);
  axisB(g,x,701,iXTicks,iXTicks.map(String));
  axisL(g,y,470,iYTicks,iYTicks.map(String));
  T(g,437,652,"Leg area (mm^{2})",{anchor:"middle",rot:-90,size:11.5});
  T(g,515,726,"Time after tumor injection (days)",{anchor:"middle",size:11.5});
  const series=[["mock",iMock,iMockErr,d3.symbolCircle,30],["cd19",iCD19,iCD19Err,d3.symbolSquare,40],["gd2",iGD2,iGD2Err,d3.symbolTriangle,28],["co",iCo,iCoErr,d3.symbolDiamond,28]];
  series.forEach(s=>{
    const pts=iDays.map((d,i)=>[d,s[1][i],s[2][i]]);
    pts.forEach(p=>{ if(p[2]>0){
      vline(g,x(p[0]),y(p[1]-p[2]),y(p[1]+p[2]),1.3,C[s[0]]);
      [p[1]-p[2],p[1]+p[2]].forEach(v=>hline(g,x(p[0])-3,x(p[0])+3,y(v),1.3,C[s[0]]));
    }});
    g.append("path").attr("d",d3.line().x(d=>x(d[0])).y(d=>y(d[1]))(pts)).attr("fill","none").attr("stroke",C[s[0]]).attr("stroke-width",1.8);
    g.selectAll(null).data(pts).enter().append("path").attr("d",d3.symbol(s[3],s[4])).attr("transform",d=>`translate(${x(d[0])},${y(d[1])})`).attr("fill",C[s[0]]);
  });
  T(g,x(27)+4,y(255),"NS",{size:10.5});
  T(g,x(27)+5,y(100),"*",{size:12});
  T(g,x(13.5),641,"T cells",{anchor:"middle",size:10.5});
  vline(g,x(13.2),646,668,1).attr("marker-end","url(#arr)");
  const lg=[[433,744,"mock","Mock"],[433,759,"cd19","CD19.28z CAR"],[542,744,"gd2","GD2.28z CAR"],[542,759,"co","Co-trans"]];
  lg.forEach(l=>{
    const s=series.find(q=>q[0]===l[2]);
    hline(g,l[0]-5,l[0]+5,l[1],1.5,C[l[2]]);
    g.append("path").attr("d",d3.symbol(s[3],s[4])).attr("transform",`translate(${l[0]},${l[1]})`).attr("fill",C[l[2]]);
    T(g,l[0]+10,l[1]+4,l[3],{size:11.5});
  });
})();

// ================= PANEL J =================
(function(){
  const g=svg.append("g");
  T(g,3,818,"j",{bold:1,size:13});
  const fills={carNeg:C.mock,cd19:C.cd19,gd2:C.gd2,both:C.co};
  function stacked(opts){
    const x=d3.scaleBand().domain(jGroups).range([opts.ax+2,opts.end]).paddingInner(0.3).paddingOuter(0.15);
    const y=d3.scaleLinear().domain([0,opts.max]).range([945,838]);
    const rows=jGroups.map((n,i)=>({name:n,carNeg:opts.carNeg[i],cd19:opts.cd19[i],gd2:(opts.gd2||[0,0,0,0])[i],both:(opts.both||[0,0,0,0])[i]}));
    const st=d3.stack().keys(jStackKeys)(rows);
    if(opts.errTop) rows.forEach((r,i)=>{ const tot=r.carNeg+r.cd19+r.gd2+r.both; if(opts.errTop[i]>tot) errUp(g,x(r.name)+x.bandwidth()/2,y(tot),y(opts.errTop[i]),10); });
    st.forEach(layer=>{
      layer.forEach(d=>{ if(d[1]-d[0]<=0) return; rect(g,x(d.data.name),y(d[0]),y(d[1]),x.bandwidth(),fills[layer.key],1.8); });
    });
    axisL(g,y,opts.ax,opts.ticks,opts.tickLabels,{ts:3,gap:2,size:10});
    hline(g,opts.ax,opts.end,945,1.5);
    jGroups.forEach(n=>vline(g,x(n)+x.bandwidth()/2,945,948,1.5));
    rotLabels(g,x,jGroups,955,{dx:4,size:12});
    T(g,opts.tx,893,"T cells (absolute number)",{anchor:"middle",rot:-90,size:11.5});
    hline(g,opts.bx[0],opts.bx[1],1021,1.2);
    opts.bracket.forEach((b,k)=>T(g,(opts.bx[0]+opts.bx[1])/2,1034+k*13,b,{anchor:"middle",size:11.5}));
    return {x,y,c:n=>x(n)+x.bandwidth()/2};
  }
  stacked({ax:73,end:190,max:1.09e7,carNeg:jProductCarNeg,cd19:jProductCD19,gd2:jProductGD2,both:jProductBoth,
    ticks:[0,5e6,1e7],tickLabels:["0","5 x 10^{6}","1 x 10^{7}"],tx:32,bx:[65,191],bracket:["Adoptive transfer","T cell product"]});
  const sp=stacked({ax:253,end:368,max:6e7,carNeg:jSpleenCarNeg,cd19:jSpleenCD19,errTop:jSpleenErrTop,
    ticks:[0,2e7,4e7,6e7],tickLabels:["0","2 x 10^{7}","4 x 10^{7}","6 x 10^{7}"],tx:209,bx:[243,368],bracket:["Spleen"]});
  const tu=stacked({ax:432,end:547,max:4e6,carNeg:jTumorCarNeg,cd19:jTumorCD19,errTop:jTumorErrTop,
    ticks:[0,1e6,2e6,3e6,4e6],tickLabels:["0","1 x 10^{6}","2 x 10^{6}","3 x 10^{6}","4 x 10^{6}"],tx:394,bx:[427,552],bracket:["Tumor"]});
  [sp,tu].forEach(p=>{
    const c=p.c, G=jGroups;
    sig(g,c(G[1])+1,c(G[3])+2,792,"*");
    sig(g,c(G[0]),c(G[3])+1,806,"*");
    sig(g,c(G[0]),c(G[2])-2,819,"*");
    sig(g,c(G[0]),c(G[1])-4,833,"*");
    sig(g,c(G[1])+1,c(G[2])-2,833,"*");
    sig(g,c(G[2])+7,c(G[3])+4,833,"NS");
  });
  const ly=[856,878,901,923];
  const keys=["carNeg","cd19","gd2","both"];
  jLegend.forEach((l,k)=>{
    g.append("rect").attr("x",552).attr("y",ly[k]-5).attr("width",16).attr("height",10).attr("fill",fills[keys[k]]).attr("stroke","#000").attr("stroke-width",1.3);
    l.split("|").forEach((line,m)=>T(g,573,ly[k]+4+m*14,line,{size:11.5}));
  });
})();
</script>
</body></html>
